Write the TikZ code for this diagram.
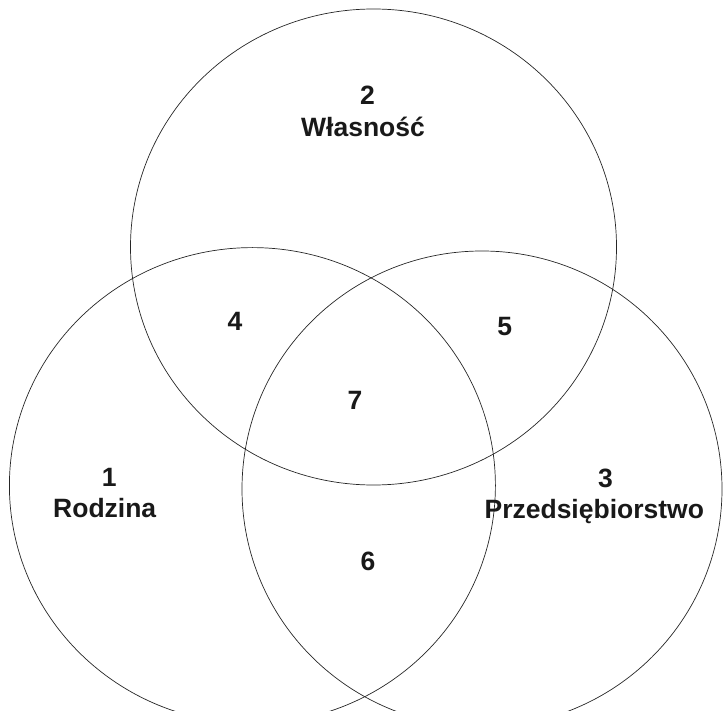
\documentclass[tikz,border=0pt]{standalone}
\usepackage{fontspec}
\setmainfont{Liberation Sans}
\begin{document}
\begin{tikzpicture}[x=1pt,y=-1pt,
  ring/.style={draw=black!85, line width=0.7pt},
  lbl/.style={font=\fontsize{26.5}{31}\selectfont\bfseries, text=black!90, anchor=base, inner sep=0pt}]
\useasboundingbox (0,0) rectangle (723,711);
\begin{scope}
\clip (0,0) rectangle (723,711);
\draw[ring] (373.5,247) ellipse [x radius=243pt, y radius=238pt];
\draw[ring] (252.4,485.6) ellipse [x radius=243pt, y radius=238pt];
\draw[ring] (482,489) ellipse [x radius=240pt, y radius=238pt];
\end{scope}
\node[lbl] (n2) at (367.5,105) {2};
\node[lbl] (w) at (363,137) {Własność};
\node[lbl] (n4) at (235,330.6) {4};
\node[lbl] (n5) at (504.8,335) {5};
\node[lbl] (n7) at (355,409.4) {7};
\node[lbl] (n1) at (109.3,486.4) {1};
\node[lbl] (r) at (104.7,517.3) {Rodzina};
\node[lbl] (n3) at (605.4,487.8) {3};
\node[lbl] (p) at (594.3,518.7) {Przedsiębiorstwo};
\node[lbl] (n6) at (368,570.3) {6};
\end{tikzpicture}
\end{document}
